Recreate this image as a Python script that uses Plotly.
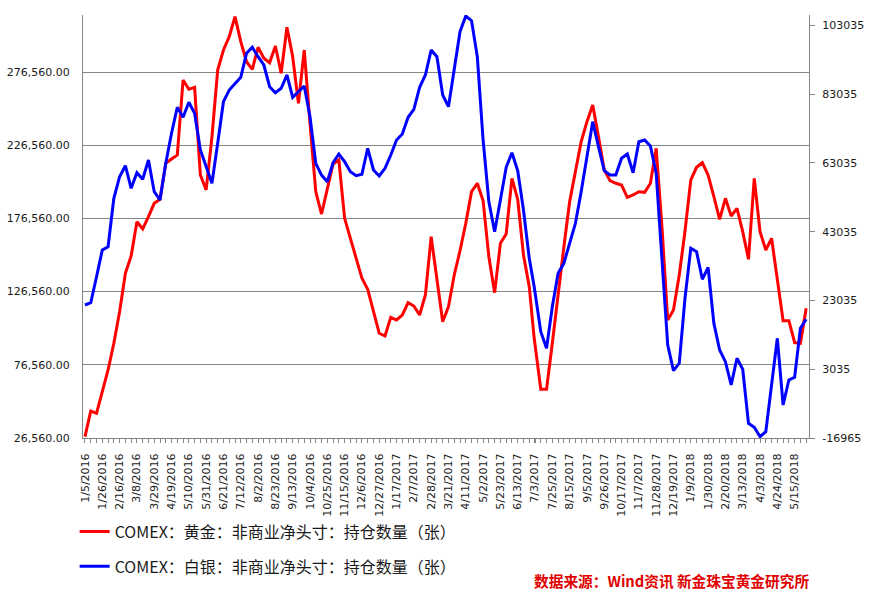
import pandas as pd
import plotly.graph_objects as go

# Weekly dates (Tuesdays; 7/4/2017 holiday reported on 7/3/2017)
dates = list(pd.date_range("2016-01-05", periods=126, freq="7D"))
dates = [pd.Timestamp("2017-07-03") if d == pd.Timestamp("2017-07-04") else d for d in dates]

gold_net = [
    27448, 45000, 43430, 58186, 73008, 91246, 112831, 139060, 150877, 174307,
    169320, 177723, 186876, 189608, 214198, 217134, 219866, 271095, 264743, 266109,
    206205, 196000, 232000, 277926, 291587, 300672, 314333, 297257, 283596, 278405,
    293431, 285918, 282912, 294320, 275672, 307092, 287012, 255179, 291587, 241519,
    194798, 179565, 197120, 213718, 216451, 176628, 162967, 148623, 135645, 128131,
    112831, 98076, 96232, 109006, 107161, 110576, 118978, 116724, 110576, 124238,
    164060, 134483, 106000, 116246, 137899, 154497, 173213, 194798, 200535, 188650,
    150399, 125809, 159552, 165904, 203951, 189608, 151560, 129907, 94661, 59825,
    59825, 91246, 125604, 157024, 187967, 209620, 228951, 242612, 254019, 232366,
    209620, 202311, 200535, 199374, 190973, 192544, 194798, 194388, 200535, 224443,
    170890, 107161, 113992, 137899, 167953, 202789, 211465, 214606, 206205, 191382,
    175945, 190291, 178199, 183458, 167475, 148623, 203951, 167475, 154975, 162967,
    133322, 106683, 106683, 91656, 91246, 115153,
]

silver_net = [
    21709, 22378, 29938, 37702, 38661, 52735, 59016, 62214, 55643, 60179,
    58260, 63872, 54654, 52241, 62912, 71636, 79196, 76288, 80650, 77451,
    66780, 61924, 57097, 68728, 80824, 84226, 86175, 87919, 94898, 96643,
    93909, 91496, 85186, 83441, 84721, 88588, 82104, 83732, 85390, 76463,
    62912, 59500, 57562, 63087, 65617, 63378, 60470, 59307, 59714, 67274,
    60964, 59219, 61458, 65326, 69687, 71432, 76288, 78614, 85012, 88588,
    95858, 93909, 82773, 79371, 91002, 101179, 105744, 104378, 93909, 69687,
    51746, 43023, 52241, 61749, 65995, 60760, 49333, 35288, 27030, 13945,
    9118, 21214, 30926, 33834, 39650, 45465, 54654, 64831, 75009, 67739,
    60760, 59510, 59510, 64366, 65617, 60179, 69193, 69687, 67943, 60004,
    33834, 10078, 2605, 4756, 23744, 38196, 37207, 29182, 32671, 16387,
    8624, 5222, -1554, 6210, 3012, -12691, -13854, -16587, -15133, -1059,
    12026, -7369, -100, 685, 14934, 17551,
]

gold_name = "COMEX：黄金：非商业净头寸：持仓数量（张）"
silver_name = "COMEX：白银：非商业净头寸：持仓数量（张）"
source_text = "数据来源：Wind资讯 新金珠宝黄金研究所"

left_ticks = [26560, 76560, 126560, 176560, 226560, 276560]
left_ticktext = [f"{v:,.2f}" for v in left_ticks]
right_ticks = [-16965, 3035, 23035, 43035, 63035, 83035, 103035]
right_ticktext = [str(v) for v in right_ticks]

x_tickvals = dates[::3]
x_ticktext = [f"{d.month}/{d.day}/{d.year}" for d in x_tickvals]

GRID = "#868686"
TXT = "#1a1a1a"
TICKFONT = dict(family="DejaVu Sans", size=11, color=TXT)

fig = go.Figure()
fig.add_trace(go.Scatter(
    x=dates, y=gold_net, name=gold_name, mode="lines",
    line=dict(color="#ff0000", width=3), legendgroup="g"))
fig.add_trace(go.Scatter(
    x=dates, y=silver_net, name=silver_name, mode="lines", yaxis="y2",
    line=dict(color="#0000ff", width=3), legendgroup="s"))

fig.update_layout(
    width=894, height=604,
    margin=dict(l=83, r=85, t=15, b=166, autoexpand=False),
    paper_bgcolor="white", plot_bgcolor="white",
    showlegend=True,
    legend=dict(
        xref="container", yref="container", x=0.0835, y=0.148,
        xanchor="left", yanchor="top",
        font=dict(family="Noto Sans CJK SC", size=16, color=TXT),
        tracegroupgap=11, itemwidth=30, bgcolor="rgba(0,0,0,0)",
    ),
    xaxis=dict(
        type="date",
        range=["2016-01-02 14:00", "2018-06-01 10:00"],
        tickmode="array", tickvals=x_tickvals, ticktext=x_ticktext,
        tickangle=-90, tickfont=TICKFONT,
        ticks="outside", ticklen=4, tickcolor=GRID,
        minor=dict(ticks="outside", ticklen=4, tickcolor=GRID,
                   dtick=7 * 86400000, tick0="2016-01-05", showgrid=False),
        showline=True, linecolor=GRID, linewidth=1,
        showgrid=False, zeroline=False,
        ticklabelstandoff=6, automargin=False,
    ),
    yaxis=dict(
        range=[26560, 315500],
        tickmode="array", tickvals=left_ticks, ticktext=left_ticktext,
        tickfont=TICKFONT,
        showline=True, linecolor=GRID, linewidth=1,
        showgrid=True, gridcolor=GRID, gridwidth=1,
        zeroline=False, ticks="", ticklabelstandoff=10, automargin=False,
    ),
    yaxis2=dict(
        overlaying="y", side="right",
        range=[-16965, 106035],
        tickmode="array", tickvals=right_ticks, ticktext=right_ticktext,
        tickfont=TICKFONT,
        showline=True, linecolor=GRID, linewidth=1,
        showgrid=False, zeroline=False,
        ticks="outside", ticklen=5, tickcolor=GRID, ticklabelstandoff=5,
        automargin=False,
    ),
    annotations=[dict(
        text=f"<b>{source_text}</b>", xref="paper", yref="paper",
        x=0.81, y=-0.336, xanchor="center", yanchor="middle",
        showarrow=False,
        font=dict(family="Noto Sans CJK SC", size=14.7, color="#e00000"),
    )],
)

fig.write_html("out.html")
